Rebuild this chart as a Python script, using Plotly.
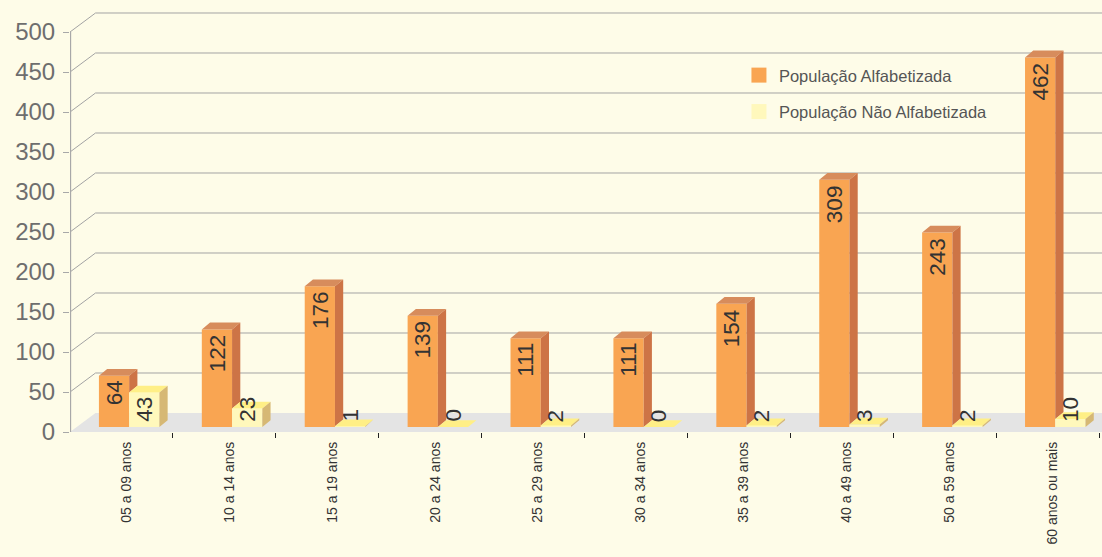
import plotly.graph_objects as go

# ---- data ----
categories = ["05 a 09 anos", "10 a 14 anos", "15 a 19 anos", "20 a 24 anos",
              "25 a 29 anos", "30 a 34 anos", "35 a 39 anos", "40 a 49 anos",
              "50 a 59 anos", "60 anos ou mais"]
alfabetizada = [64, 122, 176, 139, 111, 111, 154, 309, 243, 462]
nao_alfabetizada = [43, 23, 1, 0, 2, 0, 2, 3, 2, 10]
y_ticks = [0, 50, 100, 150, 200, 250, 300, 350, 400, 450, 500]
series_names = ["População Alfabetizada", "População Não Alfabetizada"]

# ---- pseudo-3D geometry (axis units) ----
X_MIN, X_MAX = -0.5, 9.529
Y_MAX = 540
WALL_DX, WALL_DY = 0.248, 23.75      # depth of the floor / back wall offset
BAR_W = 0.294                        # front-face width of one bar
PAIR_SHIFT = 0.075                   # pair centre vs. category centre
BAR_BASE = 6.25                      # bars stand a little back on the floor
DEPTH_DX, DEPTH_DY = 0.08, 8.5       # depth of each bar

BG = "#FEFCE8"
ORANGE = dict(front="#F9A552", top="#D78C5C", side="#CD7446")
YELLOW = dict(front="#FFF8BC", top="#FFEF86", side="#D6B874")
FONT = "Liberation Sans, Arial, sans-serif"

idx = list(range(len(categories)))

fig = go.Figure()

# front faces
fig.add_trace(go.Bar(
    x=idx, y=alfabetizada, base=BAR_BASE, width=BAR_W,
    offset=PAIR_SHIFT - BAR_W, marker=dict(color=ORANGE["front"], line=dict(width=0)),
    showlegend=False, hoverinfo="skip"))
fig.add_trace(go.Bar(
    x=idx, y=nao_alfabetizada, base=BAR_BASE, width=BAR_W,
    offset=PAIR_SHIFT, marker=dict(color=YELLOW["front"], line=dict(width=0)),
    showlegend=False, hoverinfo="skip"))


def polys_to_xy(polys):
    xs, ys = [], []
    for p in polys:
        for (px, py) in p:
            xs.append(px)
            ys.append(py)
        xs.append(None)
        ys.append(None)
    return xs, ys


o_top, o_side, y_top, y_side = [], [], [], []
for i, a, n in zip(idx, alfabetizada, nao_alfabetizada):
    xo0 = i + PAIR_SHIFT - BAR_W
    xo1 = i + PAIR_SHIFT
    xy1 = xo1 + BAR_W
    to = BAR_BASE + a
    ty = BAR_BASE + n
    o_top.append([(xo0, to), (xo1, to), (xo1 + DEPTH_DX, to + DEPTH_DY), (xo0 + DEPTH_DX, to + DEPTH_DY)])
    if a > n:
        o_side.append([(xo1, ty), (xo1 + DEPTH_DX, ty + DEPTH_DY), (xo1 + DEPTH_DX, to + DEPTH_DY), (xo1, to)])
    y_top.append([(xo1, ty), (xy1, ty), (xy1 + DEPTH_DX, ty + DEPTH_DY), (xo1 + DEPTH_DX, ty + DEPTH_DY)])
    y_side.append([(xy1, BAR_BASE), (xy1 + DEPTH_DX, BAR_BASE + DEPTH_DY), (xy1 + DEPTH_DX, ty + DEPTH_DY), (xy1, ty)])

for polys, color in [(o_top, ORANGE["top"]), (o_side, ORANGE["side"]),
                     (y_top, YELLOW["top"]), (y_side, YELLOW["side"])]:
    xs, ys = polys_to_xy(polys)
    fig.add_trace(go.Scatter(x=xs, y=ys, mode="lines", fill="toself",
                             fillcolor=color, line=dict(width=0, color=color),
                             showlegend=False, hoverinfo="skip"))

# legend entries
for name, color, grp in [(series_names[0], ORANGE["front"], "a"),
                         (series_names[1], YELLOW["front"], "b")]:
    fig.add_trace(go.Scatter(x=[None], y=[None], mode="markers", name=name,
                             legendgroup=grp,
                             marker=dict(symbol="square", size=15, color=color)))

# invisible trace carrying the boundary tick axis
fig.add_trace(go.Scatter(x=[X_MIN], y=[0], xaxis="x2", mode="markers",
                         marker=dict(opacity=0), showlegend=False, hoverinfo="skip"))

# floor and back-wall grid
shapes = [dict(type="path", xref="x", yref="y", layer="below",
               path=f"M {X_MIN},0 L {X_MAX},0 L {X_MAX},{WALL_DY} L {X_MIN + WALL_DX},{WALL_DY} Z",
               fillcolor="#E4E4E4", line=dict(width=0))]
for v in y_ticks[1:]:
    shapes.append(dict(type="path", xref="x", yref="y", layer="below",
                       path=f"M {X_MIN},{v} L {X_MIN + WALL_DX},{v + WALL_DY} L {X_MAX},{v + WALL_DY}",
                       line=dict(color="#A3A3A3", width=1)))
shapes.append(dict(type="line", xref="x", yref="y", layer="below",
                   x0=X_MIN + 0.004, x1=X_MIN + 0.004, y0=0, y1=y_ticks[-1],
                   line=dict(color="#A8A8A8", width=1.5)))

# value labels
annotations = []
for i, a, n in zip(idx, alfabetizada, nao_alfabetizada):
    annotations.append(dict(x=i + PAIR_SHIFT - BAR_W / 2, y=BAR_BASE + a, xref="x", yref="y",
                            text=str(a), textangle=-90, showarrow=False,
                            xanchor="center", yanchor="top", yshift=-3,
                            font=dict(family=FONT, size=22.5, color="#333333")))
    annotations.append(dict(x=i + PAIR_SHIFT + BAR_W / 2, y=BAR_BASE, xref="x", yref="y",
                            text=str(n), textangle=-90, showarrow=False,
                            xanchor="center", yanchor="bottom", yshift=3,
                            font=dict(family=FONT, size=22.5, color="#333333")))

fig.update_layout(
    width=1102, height=557,
    margin=dict(l=70, r=0, t=0, b=125),
    paper_bgcolor=BG, plot_bgcolor=BG,
    barmode="overlay",
    shapes=shapes, annotations=annotations,
    font=dict(family=FONT),
    xaxis=dict(range=[X_MIN, X_MAX], tickmode="array",
               tickvals=[i + 0.047 for i in idx], ticktext=categories,
               tickangle=-90, ticks="", ticklabelstandoff=6,
               tickfont=dict(family=FONT, size=14, color="#333333"),
               showgrid=False, zeroline=False, showline=False),
    xaxis2=dict(range=[X_MIN, X_MAX], overlaying="x", anchor="y", side="bottom",
                tickmode="array", tickvals=[i + 0.5 for i in idx],
                ticks="outside", ticklen=5, tickwidth=1, tickcolor="#222222",
                showticklabels=False, showgrid=False, zeroline=False, showline=False),
    yaxis=dict(range=[0, Y_MAX], tickmode="array", tickvals=y_ticks,
               ticks="outside", ticklen=6, tickcolor="#A8A8A8", tickwidth=1,
               ticklabelstandoff=3,
               tickfont=dict(family=FONT, size=24, color="#6E6E6E"),
               showgrid=False, zeroline=False, showline=False),
    legend=dict(x=0.6482, y=0.866, xanchor="left", yanchor="top",
                bgcolor="rgba(0,0,0,0)", traceorder="grouped", tracegroupgap=12,
                font=dict(family=FONT, size=16.5, color="#555555")),
    showlegend=True,
)

fig.write_html("out.html")
